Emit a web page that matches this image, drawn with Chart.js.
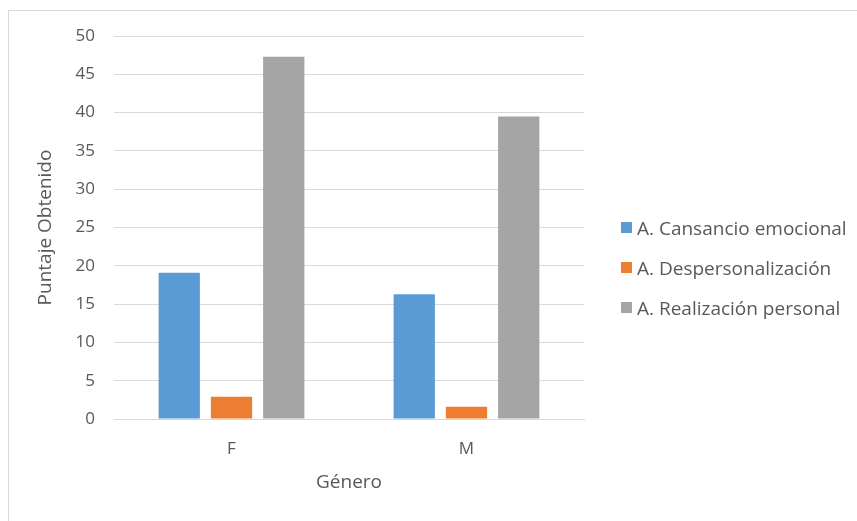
<!DOCTYPE html>
<html>
<head>
<meta charset="utf-8">
<script src="https://cdn.jsdelivr.net/npm/chart.js@4.4.0/dist/chart.umd.min.js"></script>
<style>
  body { margin: 0; background: #fff; overflow: hidden; }
  #frame { position: absolute; left: 8px; top: 10px; width: 900px; height: 600px; border: 1px solid #d9d9d9; }
  #wrap { position: absolute; left: 0; top: 0; width: 857px; height: 521px; }
  #legend { position: absolute; left: 0; top: 0; font-family: "Open Sans", sans-serif; font-size: 19px; color: #595959; }
  .item { position: absolute; left: 621px; height: 24px; line-height: 24px; white-space: nowrap; }
  .item span.box { position: absolute; left: 0; top: 6px; width: 11px; height: 11px; }
  .item span.txt { position: absolute; left: 16px; top: 0; }
</style>
</head>
<body>
<div id="frame"></div>
<div id="wrap"><canvas id="mycanvas" width="857" height="521"></canvas></div>
<div id="legend"></div>
<script>
var generos = ['F', 'M'];
var cansancio = [19.1, 16.3];
var despersonalizacion = [2.9, 1.6];
var realizacion = [47.3, 39.5];
var seriesNames = ['A. Cansancio emocional', 'A. Despersonalización', 'A. Realización personal'];
var seriesColors = ['#5b9bd5', '#ed7d31', '#a5a5a5'];

var textColor = '#595959';
var gridColor = '#d9d9d9';

var chartdata = {
  labels: generos,
  datasets: [
    { label: seriesNames[0], data: cansancio, backgroundColor: seriesColors[0] },
    { label: seriesNames[1], data: despersonalizacion, backgroundColor: seriesColors[1] },
    { label: seriesNames[2], data: realizacion, backgroundColor: seriesColors[2] }
  ]
};

var ctx = document.getElementById('mycanvas');

var barGraph = new Chart(ctx, {
  type: 'bar',
  data: chartdata,
  options: {
    responsive: false,
    animation: false,
    categoryPercentage: 0.667,
    barPercentage: 0.79,
    layout: { padding: { left: 0, top: 36, right: 273, bottom: 0 } },
    plugins: {
      legend: { display: false },
      tooltip: { enabled: false }
    },
    scales: {
      x: {
        afterFit: function(scale) { scale.height = 102; },
        grid: { display: false, drawTicks: false },
        border: { display: true, color: gridColor },
        ticks: { color: textColor, padding: 20, font: { family: 'Open Sans', size: 17 } },
        title: {
          display: true,
          text: 'Género',
          color: textColor,
          font: { family: 'Open Sans', size: 19 },
          padding: { top: 0, bottom: 27 }
        }
      },
      y: {
        min: 0,
        max: 50,
        afterFit: function(scale) { scale.width = 114; },
        grid: { color: gridColor, drawTicks: false },
        border: { display: false },
        ticks: { stepSize: 5, color: textColor, padding: 19, font: { family: 'Open Sans', size: 17 } },
        title: {
          display: true,
          text: 'Puntaje Obtenido',
          color: textColor,
          font: { family: 'Open Sans', size: 19 },
          padding: { top: 34, bottom: 0 }
        }
      }
    }
  }
});

// legend as html, to the right of the plot
var legend = document.getElementById('legend');
var rows = [228, 268, 308];
barGraph.data.datasets.forEach(function(ds, i) {
  var item = document.createElement('div');
  item.className = 'item';
  item.style.top = (rows[i] - 12) + 'px';
  item.innerHTML = '<span class="box" style="background:' + ds.backgroundColor + '"></span><span class="txt">' + ds.label + '</span>';
  legend.appendChild(item);
});
</script>
</body>
</html>
